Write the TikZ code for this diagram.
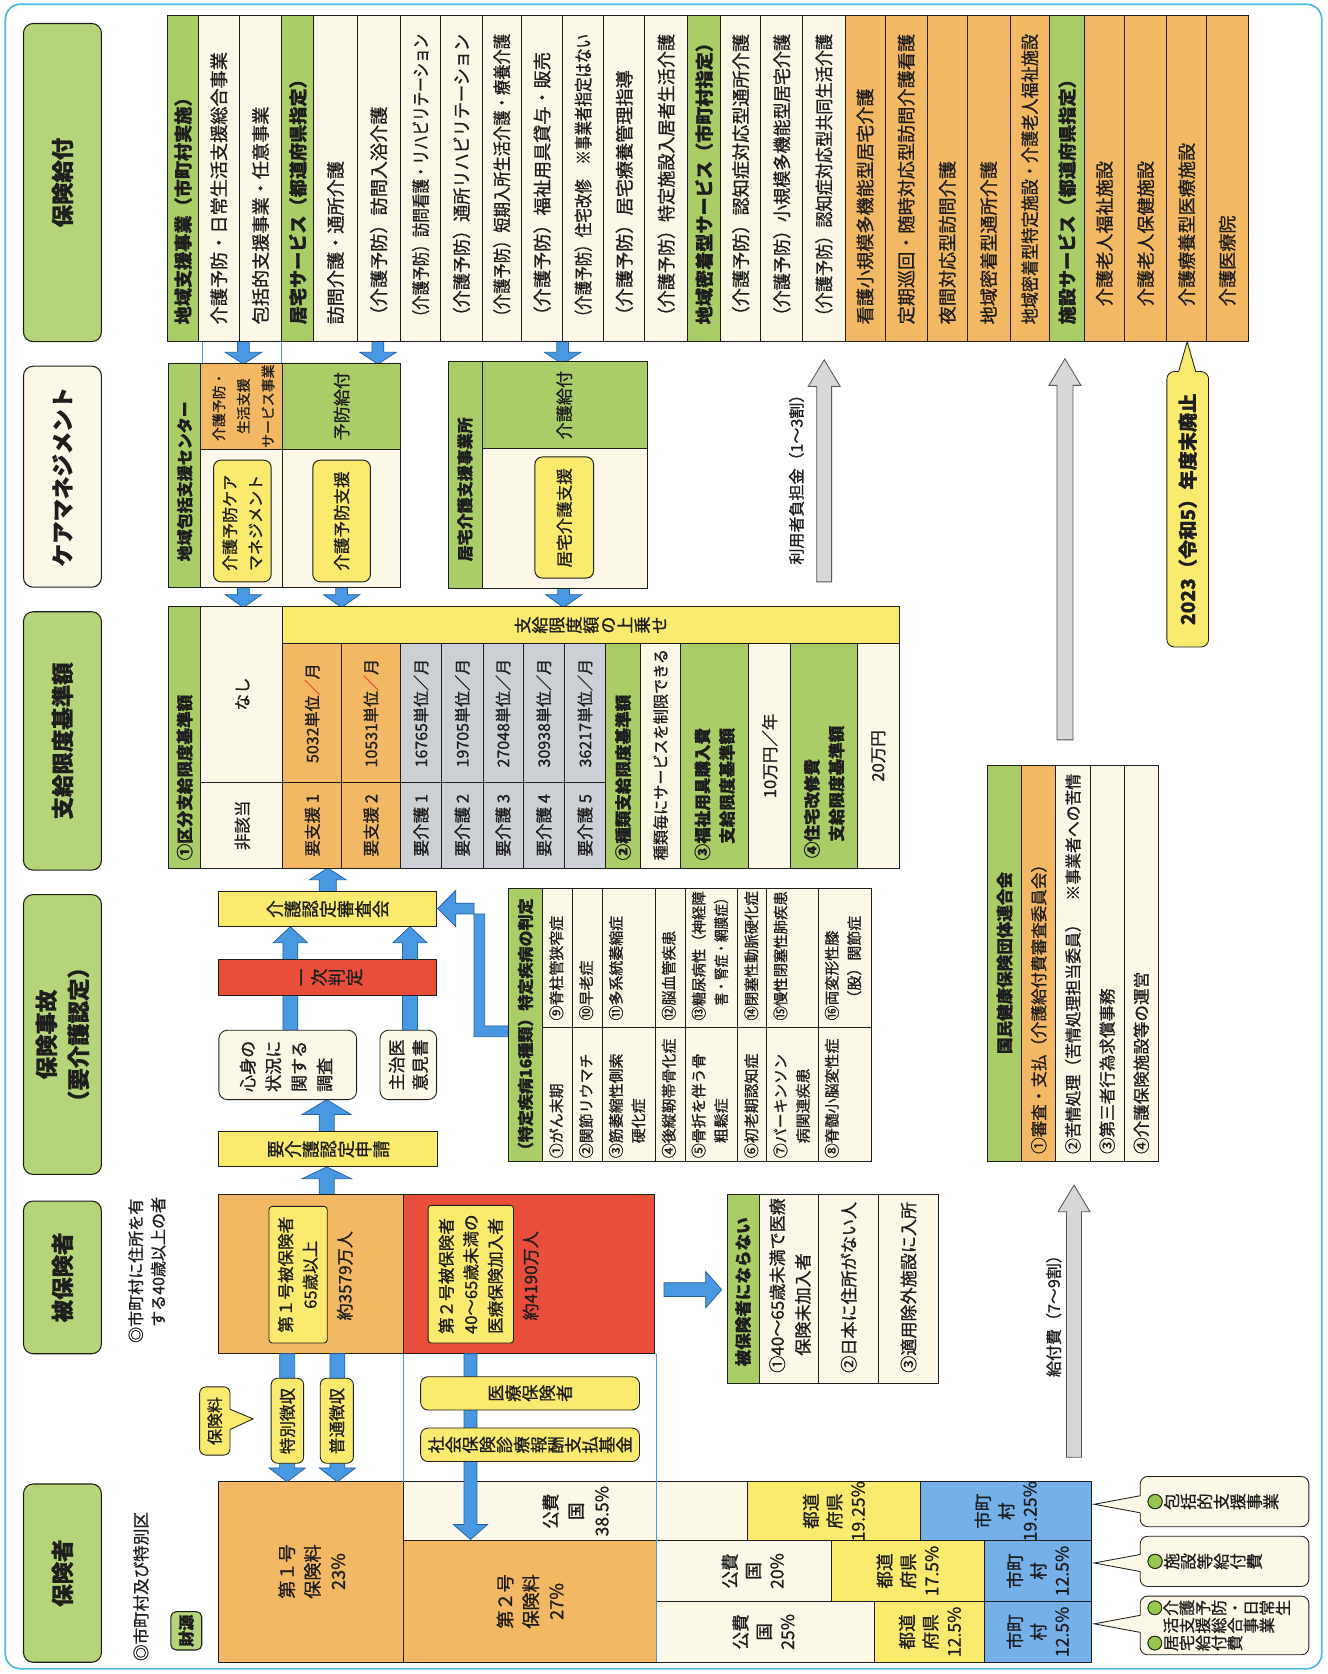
\documentclass[tikz,border=0pt]{standalone}
\usepackage{fontspec}
\setmainfont{Noto Sans CJK JP}[FakeBold=1]
\usepackage{graphicx}
\ExplSyntaxOn
\NewDocumentCommand\vt{m}{\tl_map_inline:nn{#1}{\rotatebox{90}{\raisebox{0pt}[0.88em][0.12em]{##1}}}}
\ExplSyntaxOff
\newsavebox\fbx
\newcommand\fitw[2]{\sbox\fbx{#2}\ifdim\wd\fbx>#1\relax\resizebox{#1}{\height}{\usebox\fbx}\else\usebox\fbx\fi}
\newcommand\fsz[2]{\fontsize{#1pt}{#2pt}\selectfont}
\definecolor{hgreen}{RGB}{182,213,122}
\definecolor{tgreen}{RGB}{170,205,104}
\definecolor{cream}{RGB}{252,248,231}
\definecolor{orng}{RGB}{243,184,100}
\definecolor{ylw}{RGB}{250,234,110}
\definecolor{rd}{RGB}{232,78,58}
\definecolor{bl}{RGB}{118,176,232}
\definecolor{gry}{RGB}{204,208,212}
\definecolor{abl}{RGB}{72,152,226}
\definecolor{abld}{RGB}{36,98,170}
\definecolor{frm}{RGB}{80,185,230}
\definecolor{ink}{RGB}{30,30,30}
\definecolor{agry}{RGB}{214,216,218}
\definecolor{cgreen}{RGB}{150,200,80}
\newcommand\gc{\rotatebox{90}{\raisebox{0pt}[0.88em][0.12em]{\rlap{\textcolor{cgreen}{●}}○}}}
\newcommand\varrow[7]{\draw[#1] ({#2-#6},#3) -- ({#2-#6},#4) -- ({#2-#7},#4) -- (#2,#5) -- ({#2+#7},#4) -- ({#2+#6},#4) -- ({#2+#6},#3) -- cycle;}
\newcommand\harrow[7]{\draw[#1] (#3,{#2-#6}) -- (#4,{#2-#6}) -- (#4,{#2-#7}) -- (#5,#2) -- (#4,{#2+#7}) -- (#4,{#2+#6}) -- (#3,{#2+#6}) -- cycle;}
\newcommand\krow[5]{\draw[cell, fill=#4] (#2,14) rectangle (#3,320);
  \node[rt, anchor=west, font=\fsz{17}{20}] (#1) at ({(#2+#3)/2},305) {\fitw{272pt}{#5}};}
\newcommand\lcallout[8]{\draw[cell, fill=cream, rounded corners=7pt] (#1,#2) rectangle (#3,#4);
  \fill[cream] ({#1+1.5},#7) -- (#1,#7) -- (#5,#6) -- (#1,#8) -- ({#1+1.5},#8) -- cycle;
  \draw[cell] (#1,#7) -- (#5,#6) -- (#1,#8);}
\tikzset{
  cell/.style={draw=ink, line width=0.8pt},
  hbox/.style={draw=ink, line width=1pt, rounded corners=9pt},
  ybox/.style={draw=ink, line width=0.9pt, fill=ylw, rounded corners=7pt},
  htxt/.style={rotate=90, font=\fsz{21}{30}\bfseries, align=center, text=ink, inner sep=0pt},
  rt/.style={rotate=90, inner sep=1pt, text=ink},
  vx/.style={inner sep=0pt, text=ink},
  barrow/.style={fill=abl, draw=abld, line width=0.7pt},
  garrow/.style={fill=agry, draw=ink!75, line width=0.8pt},
  thinblue/.style={draw=abl, line width=1pt},
}
\begin{document}
\begin{tikzpicture}[x=1pt,y=-1pt]
\useasboundingbox (0,0) rectangle (1243,1568);
\fill[white] (0,0) rectangle (1243,1568);
\draw[draw=frm, line width=1.6pt, rounded corners=14pt] (5,4) rectangle (1238,1563);
% ---------- left headers
\draw[hbox, fill=hgreen] (22,22) rectangle (95,320);
\node[htxt] (hA) at (58.5,171) {保険給付};
\draw[hbox, fill=cream] (22,343) rectangle (95,550);
\node[htxt] (hB) at (58.5,446.5) {ケアマネジメント};
\draw[hbox, fill=hgreen] (22,573) rectangle (95,815);
\node[htxt] (hC) at (58.5,694) {支給限度基準額};
\draw[hbox, fill=hgreen] (22,838) rectangle (95,1100);
\node[htxt] (hD) at (58.5,969) {保険事故\\（要介護認定）};
\draw[hbox, fill=hgreen] (22,1125) rectangle (95,1268);
\node[htxt] (hE) at (58.5,1196.5) {被保険者};
\draw[hbox, fill=hgreen] (22,1390) rectangle (95,1557);
\node[htxt] (hF) at (58.5,1473.5) {保険者};
\node[rt, anchor=north west, align=left, font=\fsz{15}{21}] (n1) at (119,1259) {◎市町村に住所を有\\\hspace*{1em}する40歳以上の者};
\node[rt, anchor=west, font=\fsz{15.5}{20}] (n2) at (132,1557) {◎市町村及び特別区};
\draw[hbox, fill=hgreen, rounded corners=5pt] (160,1509.6) rectangle (189,1545.5);
\node[rt, font=\fsz{15}{18}\bfseries] (zaigen) at (174.5,1527.5) {財源};
% ---------- blue arrows behind boxes
\varrow{barrow}{228}{316}{330}{341}{5.5}{17}
\varrow{barrow}{228}{345}{557}{569}{5.5}{17}
\varrow{barrow}{354}{316}{330}{341}{5.5}{17}
\varrow{barrow}{320}{400}{557}{569}{5.5}{17}
\varrow{barrow}{527}{316}{330}{341}{5.5}{17}
\varrow{barrow}{528}{345}{557}{569}{5.5}{17}
\varrow{barrow}{306}{1119}{1104}{1093}{7}{23}
\varrow{barrow}{306}{1060}{1044}{1030}{7}{23}
\varrow{barrow}{272}{965}{883}{868}{7}{16}
\varrow{barrow}{384}{965}{883}{868}{7}{16}
\varrow{barrow}{307}{835}{824}{813}{8}{17}
\draw[barrow] (476,961) -- (454,961) -- (454,856) -- (427,856) -- (427,868) -- (410,851) -- (427,834) -- (427,846) -- (444,846) -- (444,971) -- (476,971) -- cycle;
\harrow{barrow}{1208}{622}{661}{676}{6.5}{17}
% ---------- 保険給付 table
\krow{k1}{157}{186}{tgreen}{\bfseries 地域支援事業（市町村実施）}
\krow{k2}{186}{224}{cream}{介護予防・日常生活支援総合事業}
\krow{k3}{224}{264}{cream}{包括的支援事業・任意事業}
\krow{k4}{264}{294}{tgreen}{\bfseries 居宅サービス（都道府県指定）}
\krow{k5}{294}{334.5}{cream}{訪問介護・通所介護}
\krow{k6}{334.5}{375}{cream}{（介護予防）訪問入浴介護}
\krow{k7}{375}{413}{cream}{（介護予防）訪問看護・リハビリテーション}
\krow{k8}{413}{451.5}{cream}{（介護予防）通所リハビリテーション}
\krow{k9}{451.5}{488.5}{cream}{（介護予防）短期入所生活介護・療養介護}
\krow{k10}{488.5}{527}{cream}{（介護予防）福祉用具貸与・販売}
\krow{k11}{527}{565.5}{cream}{（介護予防）住宅改修　※事業者指定はない}
\krow{k12}{565.5}{604}{cream}{（介護予防）居宅療養管理指導}
\krow{k13}{604}{644}{cream}{（介護予防）特定施設入居者生活介護}
\krow{k14}{644}{675}{tgreen}{\bfseries 地域密着型サービス（市町村指定）}
\krow{k15}{675}{712.6}{cream}{（介護予防）認知症対応型通所介護}
\krow{k16}{712.6}{752}{cream}{（介護予防）小規模多機能型居宅介護}
\krow{k17}{752}{791.5}{cream}{（介護予防）認知症対応型共同生活介護}
\krow{k18}{791.5}{829}{orng}{看護小規模多機能型居宅介護}
\krow{k19}{829}{868.6}{orng}{定期巡回・随時対応型訪問介護看護}
\krow{k20}{868.6}{906}{orng}{夜間対応型訪問介護}
\krow{k21}{906}{946}{orng}{地域密着型通所介護}
\krow{k22}{946}{983}{orng}{地域密着型特定施設・介護老人福祉施設}
\krow{k23}{983}{1016}{tgreen}{\bfseries 施設サービス（都道府県指定）}
\krow{k24}{1016}{1053}{orng}{\hspace*{1em}介護老人福祉施設}
\krow{k25}{1053}{1093}{orng}{\hspace*{1em}介護老人保健施設}
\krow{k26}{1093}{1130}{orng}{\hspace*{1em}介護療養型医療施設}
\krow{k27}{1130}{1169}{orng}{\hspace*{1em}介護医療院}
\draw[thinblue] (190,320) -- (190,340);
\draw[thinblue] (264,320) -- (264,340);
% ---------- care management
\draw[cell, fill=cream] (158,340) rectangle (375,550);
\draw[cell, fill=tgreen] (158,340) rectangle (188,550);
\draw[cell, fill=orng] (188,340) rectangle (265,421);
\draw[cell, fill=tgreen] (265,340) rectangle (375,421);
\draw[cell] (265,421) -- (265,550);
\node[rt, anchor=west, font=\fsz{15}{18}\bfseries] (center) at (173,527) {\fitw{180pt}{地域包括支援センター}};
\node[rt, align=center, font=\fsz{13}{23}] (yobojigyo) at (228,380.5) {介護予防・\\生活支援\\サービス事業};
\node[rt, font=\fsz{16}{20}] (yobokyufu) at (320,380.5) {予防給付};
\draw[ybox] (200,431) rectangle (254,545);
\node[rt, anchor=west, align=left, font=\fsz{15}{24}] (kyc) at (227,536) {介護予防ケア\\マネジメント};
\draw[ybox] (293,431) rectangle (347,545);
\node[rt, font=\fsz{15.5}{20}] (kys) at (320,488) {介護予防支援};
\draw[cell, fill=cream] (420,339) rectangle (606,551);
\draw[cell, fill=tgreen] (420,339) rectangle (451.5,551);
\draw[cell, fill=tgreen] (451.5,339) rectangle (606,420);
\node[rt, anchor=west, font=\fsz{15}{18}\bfseries] (kyotakujigyo) at (435.5,527) {居宅介護支援事業所};
\node[rt, font=\fsz{16}{20}] (kaigokyufu) at (528.5,379.5) {介護給付};
\draw[ybox] (501,428) rectangle (556,541.5);
\node[rt, font=\fsz{15.5}{20}] (kks) at (528.5,485) {居宅介護支援};
% ---------- 支給限度 table
\draw[cell, fill=cream] (158,568) rectangle (842,813);
\draw[cell, fill=tgreen] (158,568) rectangle (188,813);
\draw[cell, fill=cream] (188,568) rectangle (265,733);
\draw[cell, fill=cream] (188,733) rectangle (265,813);
\draw[cell, fill=ylw] (265,568) rectangle (842,603);
\foreach \a/\b/\c in {265/320/orng,320/375/orng,375/413.8/gry,413.8/452.4/gry,452.4/490/gry,490/528.7/gry,528.7/567.3/gry}{
  \draw[cell, fill=\c] (\a,603) rectangle (\b,733);
  \draw[cell, fill=\c] (\a,733) rectangle (\b,813);}
\draw[cell, fill=tgreen] (567.3,603) rectangle (600,813);
\draw[cell, fill=cream] (600,603) rectangle (637.7,813);
\draw[cell, fill=tgreen] (637.7,603) rectangle (701.3,813);
\draw[cell, fill=cream] (701.3,603) rectangle (740.7,813);
\draw[cell, fill=tgreen] (740.7,603) rectangle (803.4,813);
\draw[cell, fill=cream] (803.4,603) rectangle (842,813);
\node[rt, anchor=west, font=\fsz{15.5}{18}\bfseries] (kubun) at (173,807) {\fitw{232pt}{①区分支給限度基準額}};
\node[rt, font=\fsz{15.5}{18}] (higaito) at (227,773) {非該当};
\node[rt, font=\fsz{15.5}{18}] (nashi) at (227,650) {なし};
\node[vx, font=\fsz{16}{16}] (uwanose) at (553.5,585.5) {\vt{支給限度額の上乗せ}};
\node[rt, font=\fsz{15.5}{18}] (s1) at (292.5,773) {要支援 1};
\node[rt, font=\fsz{15}{18}] (v1) at (292.5,668) {5032単位\textcolor{rd}{／}月};
\node[rt, font=\fsz{15.5}{18}] (s2) at (347.5,773) {要支援 2};
\node[rt, font=\fsz{15}{18}] (v2) at (347.5,668) {10531単位\textcolor{rd}{／}月};
\node[rt, font=\fsz{15.5}{18}] (c1) at (394.4,773) {要介護 1};
\node[rt, font=\fsz{15}{18}] (w1) at (394.4,668) {16765単位／月};
\node[rt, font=\fsz{15.5}{18}] (c2) at (433.1,773) {要介護 2};
\node[rt, font=\fsz{15}{18}] (w2) at (433.1,668) {19705単位／月};
\node[rt, font=\fsz{15.5}{18}] (c3) at (471.2,773) {要介護 3};
\node[rt, font=\fsz{15}{18}] (w3) at (471.2,668) {27048単位／月};
\node[rt, font=\fsz{15.5}{18}] (c4) at (509.4,773) {要介護 4};
\node[rt, font=\fsz{15}{18}] (w4) at (509.4,668) {30938単位／月};
\node[rt, font=\fsz{15.5}{18}] (c5) at (548,773) {要介護 5};
\node[rt, font=\fsz{15}{18}] (w5) at (548,668) {36217単位／月};
\node[rt, anchor=west, font=\fsz{15.5}{18}\bfseries] (shurui) at (583.6,807) {\fitw{200pt}{②種類支給限度基準額}};
\node[rt, anchor=west, font=\fsz{15}{18}] (seigen) at (618.8,807) {\fitw{198pt}{種類毎にサービスを制限できる}};
\node[rt, anchor=west, align=left, font=\fsz{15.5}{23}\bfseries] (fukushi) at (669.5,807) {③福祉用具購入費\\\hspace*{1em}支給限度基準額};
\node[rt, font=\fsz{15.5}{18}] (jyuman) at (721,708) {10万円／年};
\node[rt, anchor=west, align=left, font=\fsz{15.5}{23}\bfseries] (jutaku) at (772,805) {④住宅改修費\\\hspace*{1em}支給限度基準額};
\node[rt, font=\fsz{15.5}{18}] (nijuman) at (822.7,708) {20万円};
% ---------- 保険事故 boxes
\draw[cell, fill=ylw] (205,1060) rectangle (410,1093);
\node[vx, font=\fsz{16.5}{16}] (shinsei) at (307.5,1076.5) {\vt{要介護認定申請}};
\draw[cell, fill=cream, rounded corners=8pt] (205,965) rectangle (334,1030);
\node[rt, anchor=west, align=left, font=\fsz{16}{24}] (chosa) at (268,1024) {心身の\\状況に\\関する\\調査};
\draw[cell, fill=cream, rounded corners=8pt] (356,965) rectangle (409,1030);
\node[rt, align=center, font=\fsz{16}{22}] (ikensho) at (382.5,997.5) {主治医\\意見書};
\draw[cell, fill=rd] (205,899) rectangle (409,932);
\node[vx, font=\fsz{16.5}{16}] (ichiji) at (307,915.5) {\vt{一次判定}};
\draw[cell, fill=ylw] (205,835) rectangle (409,868);
\node[vx, font=\fsz{16.5}{16}] (shinsakai) at (307,851.5) {\vt{介護認定審査会}};
% ---------- 特定疾病 table
\draw[cell, fill=cream] (476,832) rectangle (816,1088);
\draw[cell, fill=tgreen] (476,832) rectangle (508.4,1088);
\foreach \x in {536.3,564.2,613.7,641.6,691,718.3,766.4}{\draw[cell] (\x,832) -- (\x,1088);}
\draw[cell] (508.4,962) -- (816,962);
\node[rt, anchor=west, font=\fsz{15}{18}\bfseries] (tokutei) at (492.2,1086) {\fitw{250pt}{（特定疾病16種類）特定疾病の判定}};
\tikzset{tt/.style={rt, anchor=north west, align=left, font=\fsz{14}{21}}}
\node[tt] (d1) at (513.4,1086) {①がん末期};
\node[tt] (d9) at (513.4,957) {⑨脊柱管狭窄症};
\node[tt] (d2) at (541.3,1086) {②関節リウマチ};
\node[tt] (d10) at (541.3,957) {⑩早老症};
\node[tt] (d3) at (569.2,1086) {③筋萎縮性側索\\\hspace*{1em}硬化症};
\node[tt] (d11) at (569.2,957) {⑪多系統萎縮症};
\node[tt] (d4) at (618.7,1086) {\fitw{118pt}{④後縦靭帯骨化症}};
\node[tt] (d12) at (618.7,957) {⑫脳血管疾患};
\node[tt] (d5) at (646.6,1086) {⑤骨折を伴う骨\\\hspace*{1em}粗鬆症};
\node[tt] (d13) at (646.6,957) {\fitw{121pt}{⑬糖尿病性（神経障}\\\hspace*{1em}\fitw{107pt}{害・腎症・網膜症）}};
\node[tt] (d6) at (696,1086) {⑥初老期認知症};
\node[tt] (d14) at (696,957) {\fitw{121pt}{⑭閉塞性動脈硬化症}};
\node[tt] (d7) at (723.3,1086) {⑦パーキンソン\\\hspace*{1em}病関連疾患};
\node[tt] (d15) at (723.3,957) {\fitw{121pt}{⑮慢性閉塞性肺疾患}};
\node[tt] (d8) at (771.4,1086) {\fitw{118pt}{⑧脊髄小脳変性症}};
\node[tt] (d16) at (771.4,957) {⑯両変形性膝\\\hspace*{1em}（股）関節症};
% ---------- 国保連 table
\draw[cell, fill=cream] (925,717) rectangle (1085,1088);
\draw[cell, fill=tgreen] (925,717) rectangle (957,1088);
\draw[cell, fill=orng] (957,717) rectangle (989,1088);
\draw[cell] (1021,717) -- (1021,1088);
\draw[cell] (1053,717) -- (1053,1088);
\node[rt, font=\fsz{15.5}{18}\bfseries] (kokuho) at (941,902) {国民健康保険団体連合会};
\node[rt, anchor=west, font=\fsz{15.5}{18}] (r1) at (973,1082) {\fitw{358pt}{①審査・支払（介護給付費審査委員会）}};
\node[rt, anchor=west, font=\fsz{15.5}{18}] (r2) at (1005,1082) {\fitw{356pt}{②苦情処理（苦情処理担当委員）　※事業者への苦情}};
\node[rt, anchor=west, font=\fsz{15.5}{18}] (r3) at (1037,1082) {③第三者行為求償事務};
\node[rt, anchor=west, font=\fsz{15.5}{18}] (r4) at (1069,1082) {④介護保険施設等の運営};
% ---------- 被保険者
\draw[cell, fill=orng] (205,1119) rectangle (378,1268);
\draw[cell, fill=rd] (378,1119) rectangle (613,1268);
\draw[cell, fill=ylw, rounded corners=3pt] (252,1130) rectangle (306.5,1258);
\node[rt, align=center, font=\fsz{15.5}{23}] (dai1) at (279,1194) {第１号被保険者\\65歳以上};
\node[rt, font=\fsz{16}{20}] (ninzu1) at (323,1195) {約3579万人};
\draw[cell, fill=ylw, rounded corners=3pt] (401,1129) rectangle (481,1258);
\node[rt, align=left, font=\fsz{15.5}{23}] (dai2) at (441,1193.5) {第２号被保険者\\40～65歳未満の\\医療保険加入者};
\node[rt, font=\fsz{16}{20}] (ninzu2) at (497,1195) {約4190万人};
\draw[cell, fill=cream] (681,1119) rectangle (879,1296);
\draw[cell, fill=tgreen] (681,1119) rectangle (711,1296);
\draw[cell] (767,1119) -- (767,1296);
\draw[cell] (823,1119) -- (823,1296);
\node[rt, anchor=west, font=\fsz{15.5}{18}\bfseries] (naranai) at (696,1281) {被保険者にならない};
\node[rt, anchor=west, align=left, font=\fsz{16}{24}] (nn1) at (740,1287) {①40～65歳未満で医療\\\hspace*{1em}保険未加入者};
\node[rt, anchor=west, font=\fsz{16}{20}] (nn2) at (795,1287) {②日本に住所がない人};
\node[rt, anchor=west, font=\fsz{16}{20}] (nn3) at (851,1287) {③適用除外施設に入所};
% ---------- funding table
\draw[cell, fill=orng] (205,1388) rectangle (378,1557);
\node[rt, align=center, font=\fsz{17}{24}] (f1) at (292,1472) {第１号\\保険料\\23\%};
\draw[cell, fill=cream] (378,1388) rectangle (700.5,1443);
\node[rt, align=center, font=\fsz{16.5}{24}] (fa1) at (539,1415.5) {公費\\国\\38.5\%};
\draw[cell, fill=ylw] (700.5,1388) rectangle (862,1443);
\node[rt, align=center, font=\fsz{16.5}{22}] (fa2) at (781,1415.5) {都道\\府県\\19.25\%};
\draw[cell, fill=bl] (862,1388) rectangle (1022,1443);
\node[rt, align=center, font=\fsz{16.5}{22}] (fa3) at (942,1415.5) {市町\\村\\19.25\%};
\draw[cell, fill=orng] (378,1443) rectangle (615,1557);
\node[rt, align=center, font=\fsz{17}{24}] (f2) at (496.5,1500) {第２号\\保険料\\27\%};
\draw[cell, fill=cream] (615,1443) rectangle (778.5,1500);
\node[rt, align=center, font=\fsz{16.5}{22}] (fb1) at (705,1471.5) {公費\\国\\20\%};
\draw[cell, fill=ylw] (778.5,1443) rectangle (922,1500);
\node[rt, align=center, font=\fsz{16.5}{22}] (fb2) at (850,1471.5) {都道\\府県\\17.5\%};
\draw[cell, fill=bl] (922,1443) rectangle (1022,1500);
\node[rt, align=center, font=\fsz{16.5}{22}] (fb3) at (972,1471.5) {市町\\村\\12.5\%};
\draw[cell, fill=cream] (615,1500) rectangle (819.5,1557);
\node[rt, align=center, font=\fsz{16.5}{22}] (fc1) at (715,1528.5) {公費\\国\\25\%};
\draw[cell, fill=ylw] (819.5,1500) rectangle (922,1557);
\node[rt, align=center, font=\fsz{16.5}{22}] (fc2) at (871,1528.5) {都道\\府県\\12.5\%};
\draw[cell, fill=bl] (922,1500) rectangle (1022,1557);
\node[rt, align=center, font=\fsz{16.5}{22}] (fc3) at (972,1528.5) {市町\\村\\12.5\%};
\draw[thinblue] (378,1268) -- (378,1388);
\draw[thinblue] (615,1268) -- (615,1557);
% ---------- arrows on top of funding
\varrow{barrow}{269}{1268}{1375}{1388}{7}{17}
\varrow{barrow}{316}{1268}{1375}{1388}{7}{17}
\varrow{barrow}{440.7}{1268}{1428}{1442}{6}{16}
\draw[cell, fill=ylw, rounded corners=6pt] (254,1291) rectangle (284.4,1370.6);
\node[rt, font=\fsz{15.5}{18}] (tokubetsu) at (269.2,1331) {特別徴収};
\draw[cell, fill=ylw, rounded corners=6pt] (300,1291) rectangle (331,1370.6);
\node[rt, font=\fsz{15.5}{18}] (futsu) at (315.5,1331) {普通徴収};
\draw[cell, fill=ylw, rounded corners=7pt] (394,1289.5) rectangle (599,1320.7);
\node[vx, font=\fsz{16}{16}] (iryo) at (496.5,1305) {\vt{医療保険者}};
\draw[cell, fill=ylw, rounded corners=7pt] (394,1337.6) rectangle (599,1369);
\node[vx, font=\fsz{16}{16}] (kikin) at (496.5,1353.3) {\vt{社会保険診療報酬支払基金}};
% 保険料 callout
\draw[cell, fill=ylw, rounded corners=6pt] (187,1299) rectangle (215.5,1363);
\fill[ylw] (214,1320) -- (215.5,1320) -- (237,1329) -- (215.5,1339) -- (214,1339) -- cycle;
\draw[cell] (215.5,1320) -- (237,1329) -- (215.5,1339);
\node[rt, font=\fsz{15}{18}] (hokenryo) at (201.2,1331) {保険料};
% ---------- gray arrows
\varrow{garrow}{772}{545}{362}{337}{7}{15}
\node[rt, anchor=west, font=\fsz{15}{18}] (riyosha) at (746,530) {利用者負担金（1～3割）};
\varrow{garrow}{997.5}{693}{361}{336}{7.5}{15}
\varrow{garrow}{1006}{1365}{1135}{1110}{7}{15}
\node[rt, anchor=west, font=\fsz{15}{18}] (kyufuhi) at (987,1291) {給付費（7～9割）};
% ---------- 2023 callout
\draw[cell, fill=ylw, rounded corners=7pt] (1093,348) rectangle (1132,606);
\fill[ylw] (1104,349.5) -- (1104,348) -- (1112,320) -- (1120,348) -- (1120,349.5) -- cycle;
\draw[cell] (1104,348) -- (1112,320) -- (1120,348);
\node[rt, font=\fsz{18}{20}\bfseries] (haishi) at (1112.5,477) {2023（令和5）年度末廃止};
% ---------- right callouts
\lcallout{1068}{1383}{1226}{1430}{1025}{1409}{1401}{1417}
\node[vx, anchor=west, font=\fsz{15.5}{16.5}] (cb1) at (1074,1406.5) {\gc\vt{包括的支援事業}};
\lcallout{1068}{1439}{1226}{1486}{1025}{1464}{1456}{1472}
\node[vx, anchor=west, font=\fsz{15.5}{16.5}] (cb2) at (1074,1462.5) {\gc\vt{施設等給付費}};
\lcallout{1068}{1495}{1226}{1550}{1025}{1521}{1513}{1529}
\node[vx, anchor=west, align=left, font=\fsz{15}{16.5}] (cb3) at (1074,1522.5) {\gc\vt{介護予防・日常生}\\\hspace*{1em}\vt{活支援総合事業}\\\gc\vt{居宅給付費}};
\end{tikzpicture}
\end{document}
